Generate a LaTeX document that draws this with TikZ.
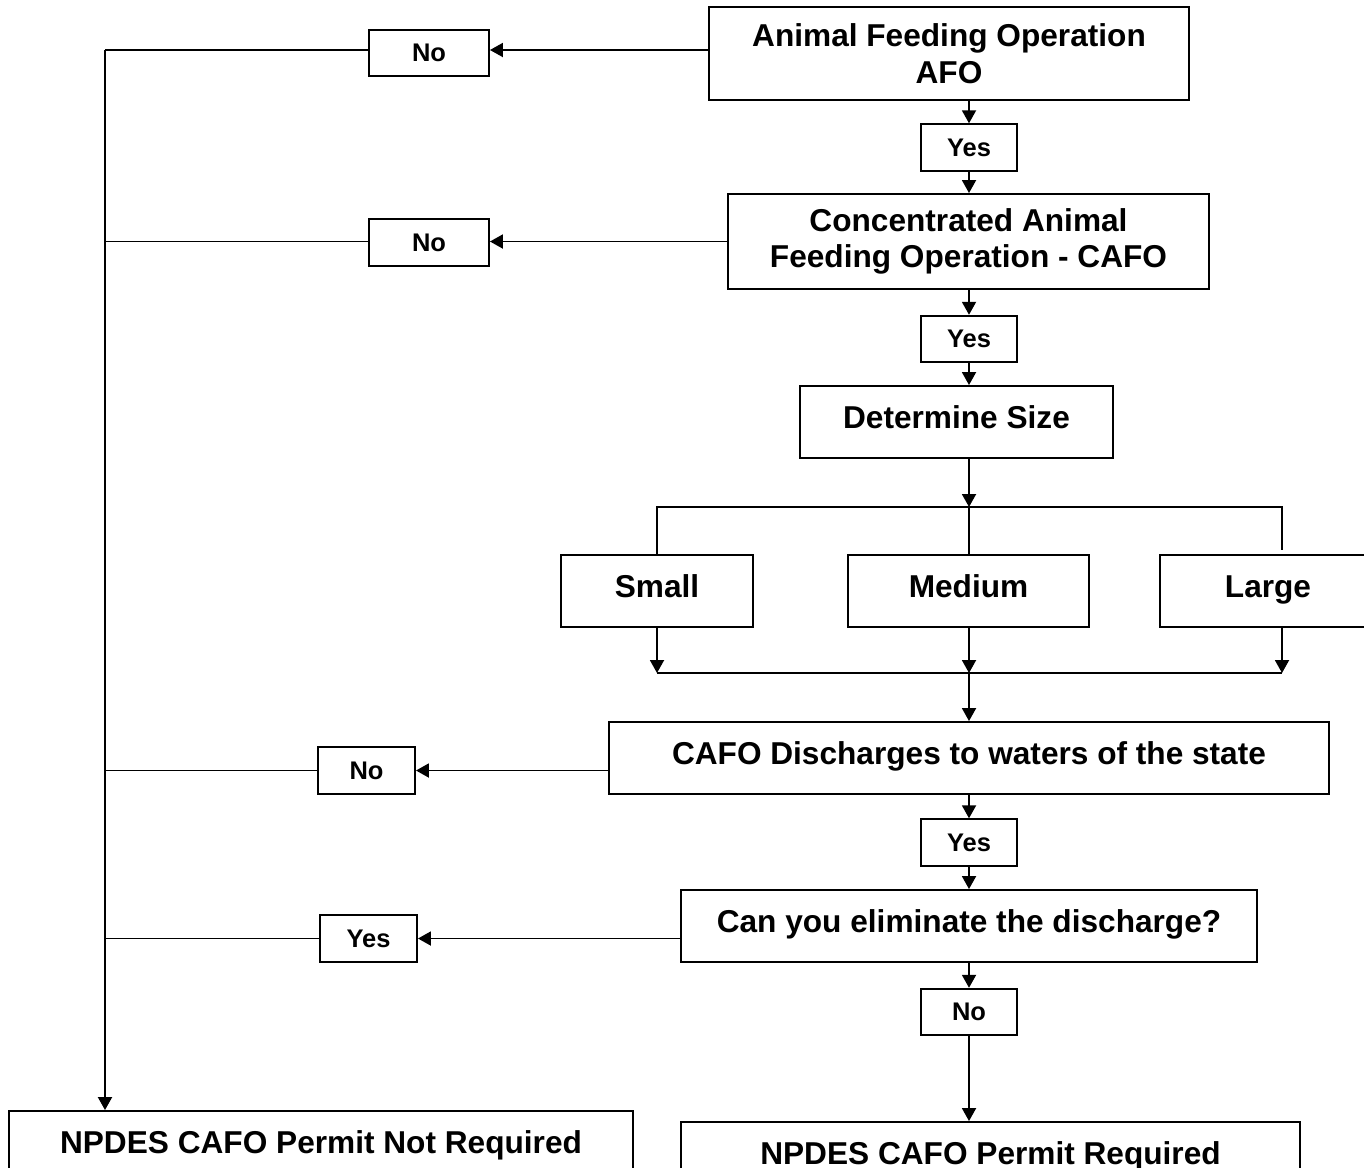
\documentclass[tikz,border=0pt]{standalone}
\usepackage{fontspec}
\setmainfont{Liberation Sans}
\usetikzlibrary{arrows.meta}

\tikzset{
  box/.style={draw,line width=1.1pt,inner sep=0pt,align=center,
    font=\bfseries\fontsize{18}{20.8}\selectfont},
  onebox/.style={box,text height=13pt,text depth=6pt},
  ans/.style={draw,line width=1.1pt,inner sep=0pt,minimum height=0.93cm,
    font=\bfseries\fontsize{14.5}{17}\selectfont},
  arr/.style={line width=1.1pt,-{Triangle[length=0.26cm,width=0.28cm]}},
  ln/.style={line width=1.1pt}
}

\begin{document}
\begin{tikzpicture}[x=0.02cm,y=-0.02cm]
\useasboundingbox (0,0) rectangle (1364,1167);

% decision boxes
\node[box,minimum width=9.6cm,minimum height=1.86cm] (afo) at (949,53.5) {Animal Feeding Operation\\AFO};
\node[box,minimum width=9.62cm,minimum height=1.9cm] (cafo) at (968.5,241.5) {Concentrated Animal\\Feeding Operation - CAFO};
\node[onebox,minimum width=6.26cm,minimum height=1.44cm] (size) at (956.5,422) {Determine Size};
\node[onebox,minimum width=3.84cm,minimum height=1.44cm] (small) at (657,591) {Small};
\node[onebox,minimum width=4.82cm,minimum height=1.44cm] (medium) at (968.5,591) {Medium};
\node[onebox,minimum width=4.32cm,minimum height=1.44cm] (large) at (1268,591) {Large};
\node[onebox,minimum width=14.4cm,minimum height=1.44cm] (dis) at (969,758) {CAFO Discharges to waters of the state};
\node[onebox,minimum width=11.52cm,minimum height=1.44cm] (elim) at (969,926) {Can you eliminate the discharge?};
\node[onebox,minimum width=12.48cm,minimum height=1.44cm] (notreq) at (321,1147) {NPDES CAFO Permit Not Required};
\node[onebox,minimum width=12.38cm,minimum height=1.44cm] (req) at (990.5,1158) {NPDES CAFO Permit Required};

% yes / no labels
\node[ans,minimum width=2.4cm] (no1) at (429,53) {No};
\node[ans,minimum width=1.92cm] (yes1) at (969,147.5) {Yes};
\node[ans,minimum width=2.4cm] (no2) at (429,242.5) {No};
\node[ans,minimum width=1.92cm] (yes2) at (969,339) {Yes};
\node[ans,minimum width=1.94cm] (no3) at (366.5,770.5) {No};
\node[ans,minimum width=1.92cm] (yes3) at (969,842.5) {Yes};
\node[ans,minimum width=1.94cm] (yes4) at (368.5,938.5) {Yes};
\node[ans,minimum width=1.92cm] (no4) at (969,1012) {No};

\coordinate (trunk) at (105,50);
\coordinate (split) at (969,507);
\coordinate (join) at (969,673);
\coordinate (lgtop) at (1282,550);
\coordinate (lgbot) at (1282,627);

% left side
\draw[arr] (afo.west |- trunk) -- (no1.east |- trunk);
\draw[ln] (no1.west |- trunk) -- (trunk);
\draw[arr] (trunk) -- (trunk |- notreq.north);
\draw[arr] (cafo.west) -- (no2.east |- cafo.west);
\draw[ln] (no2.west |- cafo.west) -- (trunk |- cafo.west);
\draw[arr] (dis.west |- no3) -- (no3.east);
\draw[ln] (no3.west) -- (trunk |- no3.west);
\draw[arr] (elim.west |- yes4) -- (yes4.east);
\draw[ln] (yes4.west) -- (trunk |- yes4.west);

% main column
\draw[arr] (yes1.north |- afo.south) -- (yes1.north);
\draw[arr] (yes1.south) -- (yes1.south |- cafo.north);
\draw[arr] (yes2.north |- cafo.south) -- (yes2.north);
\draw[arr] (yes2.south) -- (yes2.south |- size.north);
\draw[arr] (split |- size.south) -- (split);

% size branches
\draw[ln] (small.north) -- (small.north |- split) -- (lgtop |- split) -- (lgtop);
\draw[ln] (split) -- (split |- medium.north);
\draw[arr] (small.south) -- (small.south |- join);
\draw[arr] (join |- medium.south) -- (join);
\draw[arr] (lgbot) -- (lgbot |- join);
\draw[ln] (small.south |- join) -- (lgbot |- join);
\draw[arr] (join) -- (join |- dis.north);

\draw[arr] (dis.south -| yes3) -- (yes3.north);
\draw[arr] (yes3.south) -- (yes3.south |- elim.north);
\draw[arr] (elim.south -| no4) -- (no4.north);
\draw[arr] (no4.south) -- (no4.south |- req.north);
\end{tikzpicture}
\end{document}
